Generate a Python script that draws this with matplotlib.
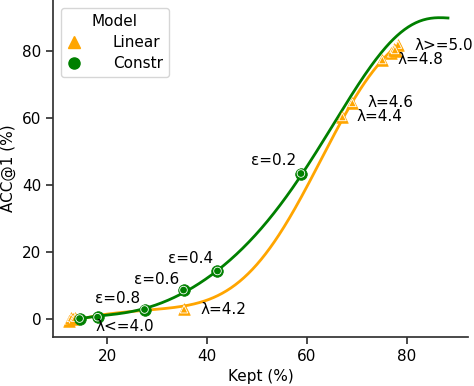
import matplotlib
matplotlib.use("Agg")
import numpy as np
import matplotlib.pyplot as plt
from matplotlib.lines import Line2D
from matplotlib.legend_handler import HandlerTuple

# ---- data ----
lin_x = [12.4, 12.8, 13.2, 13.6, 35.4, 67.1, 69.1, 75.1, 76.9, 77.4, 77.9, 78.2, 77.6]
lin_y = [-0.6, 0.2, -0.2, 0.3, 2.8, 60.2, 64.4, 77.2, 79.2, 80.6, 79.8, 81.8, 80.2]

con_x = [14.5, 18.1, 27.5, 35.3, 42.1, 58.8]
con_y = [0.0, 0.4, 2.7, 8.5, 14.2, 43.3]

# trend lines
lin_curve_x = [12.6, 16, 20, 24, 28, 32, 35.4, 38.6, 42, 45.3, 48.5, 51.9, 55,
               58.6, 61, 63.9, 66, 67.2, 69.1, 72, 75.1, 77.6]
lin_curve_y = [-1.4, 0.2, 1.3, 2.1, 2.6, 3.0, 3.4, 5.0, 7.0, 9.6, 13.8, 19.5, 26.5,
               35.4, 42.3, 50.6, 56.0, 60.2, 64.8, 71.2, 77.2, 81.0]

con_curve_x = [14, 18, 22, 27.5, 32, 35.3, 38.6, 42.1, 46, 50, 54.6, 58.8, 62,
               64.6, 66.6, 68.6, 70.6, 73, 75, 77.3, 79.5, 81.9, 84, 86.6, 88.5]
con_curve_y = [-0.3, 0.6, 1.5, 3.0, 5.2, 7.8, 10.8, 14.3, 19.0, 25.6, 34.0, 43.3, 49.8,
               55.3, 60.8, 66.2, 71.2, 76.2, 79.8, 83.1, 85.9, 88.1, 89.5, 90.4, 89.4]

lam_labels = ["λ>=5.0", "λ=4.8", "λ=4.6", "λ=4.4", "λ=4.2", "λ<=4.0"]
lam_pos = [(81.6, 81.6), (78.2, 77.2), (72.1, 64.4), (69.9, 60.2), (38.6, 2.8), (17.6, -2.5)]
eps_labels = ["ε=0.2", "ε=0.4", "ε=0.6", "ε=0.8"]
eps_pos = [(48.9, 47.3), (32.2, 17.8), (25.4, 11.8), (17.6, 6.1)]

ORANGE = "#FFA500"
GREEN = "#008000"
FS = 11

plt.rcParams["font.family"] = ["DejaVu Sans"]
plt.rcParams["font.size"] = FS

fig = plt.figure(figsize=(4.74, 3.86), dpi=100)
ax = fig.add_axes([0.112, 0.127, 0.875, 0.873])


def smooth(xs, ys, deg):
    p = np.polynomial.Polynomial.fit(xs, ys, deg)
    xx = np.linspace(min(xs), max(xs), 300)
    return xx, p(xx)


lx, ly = smooth(lin_curve_x, lin_curve_y, 7)
cx, cy = smooth(con_curve_x, con_curve_y, 8)
ax.plot(lx, ly, color=ORANGE, lw=2, zorder=2, solid_capstyle="butt")
ax.plot(cx, cy, color=GREEN, lw=2, zorder=2, solid_capstyle="butt")

# markers: coloured base with white inner outline, drawn point by point
z = 3.0
for xs, ys, mk, col in [(lin_x, lin_y, "^", ORANGE), (con_x, con_y, "o", GREEN)]:
    for x, y in zip(xs, ys):
        ax.scatter([x], [y], marker=mk, s=70, color=col, edgecolor=col, lw=0.5, zorder=z)
        ax.scatter([x], [y], marker=mk, s=30, facecolor="none", edgecolor="white",
                   lw=0.6, zorder=z + 0.001)
        z += 0.002

for t, (x, y) in zip(lam_labels, lam_pos):
    ax.text(x, y, t, ha="left", va="center", fontsize=FS, zorder=5)
for t, (x, y) in zip(eps_labels, eps_pos):
    ax.text(x, y, t, ha="left", va="center", fontsize=FS, zorder=5)

ax.set_xlim(9.2, 92.2)
ax.set_ylim(-5.5, 95.1)
ax.set_xticks([20, 40, 60, 80])
ax.set_yticks([0, 20, 40, 60, 80])
ax.set_xlabel("Kept (%)", fontsize=FS)
ax.set_ylabel("ACC@1 (%)", fontsize=FS)
for s in ["top", "right"]:
    ax.spines[s].set_visible(False)
for s in ["left", "bottom"]:
    ax.spines[s].set_color("#333333")
    ax.spines[s].set_linewidth(1.25)
ax.tick_params(colors="#333333", labelcolor="black", width=1.25, length=5, labelsize=FS)

h_lin = (Line2D([], [], marker="^", ls="", ms=8, color=ORANGE, mec=ORANGE),
         Line2D([], [], marker="^", ls="", ms=4.5, mfc="none", mec="white", mew=0.6))
h_con = (Line2D([], [], marker="o", ls="", ms=8, color=GREEN, mec=GREEN),
         Line2D([], [], marker="o", ls="", ms=4.5, mfc="none", mec="white", mew=0.6))
leg = ax.legend([h_lin, h_con], ["Linear", "Constr"], title="Model", loc="upper left",
                handler_map={tuple: HandlerTuple(ndivide=None, pad=0)},
                handletextpad=1.0, borderpad=0.4, labelspacing=0.4, fontsize=FS,
                title_fontsize=FS)
leg.get_frame().set_edgecolor("#cccccc")

fig.savefig("out.png", dpi=100)
